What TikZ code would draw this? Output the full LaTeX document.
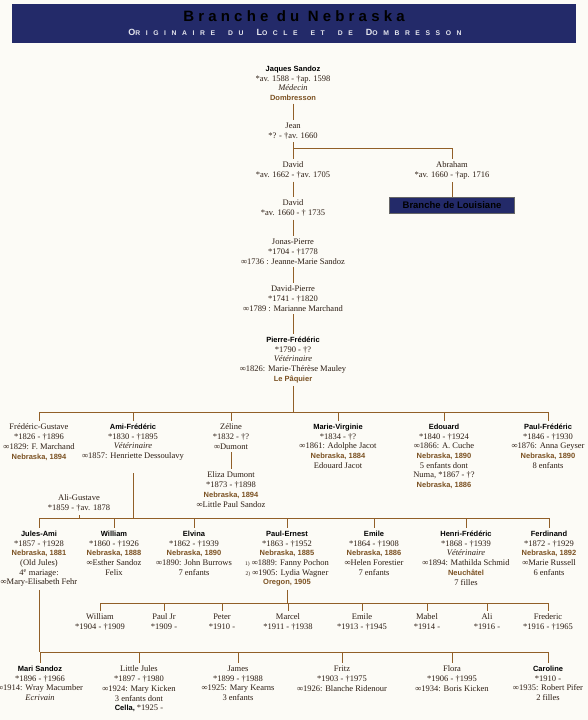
\documentclass[tikz,border=0pt]{standalone}
\usepackage{fontspec}
\setmainfont{Liberation Serif}
\setsansfont{Liberation Sans}
\newfontfamily\titlefont{Liberation Sans}[LetterSpace=28]
\newfontfamily\subtfont{Liberation Sans}[LetterSpace=82]
\usepackage{xcolor}
\usepackage{tikz}

\definecolor{navy}{RGB}{35,42,105}
\definecolor{brn}{RGB}{145,95,40}
\definecolor{ink}{RGB}{45,30,20}
\definecolor{cream}{RGB}{252,251,246}

\newcommand{\nm}[1]{{\sffamily\bfseries\fontsize{7.5}{9.7}\selectfont\color{black}#1}}
\newcommand{\neb}[1]{{\sffamily\bfseries\fontsize{7.5}{9.7}\selectfont\color{brn!85!black}#1}}
\newcommand{\sck}[2]{{\fontsize{9}{10}\selectfont#1}{\fontsize{6.8}{10}\selectfont#2}}
\newcommand{\nr}[1]{{\fontsize{5.5}{9.7}\selectfont#1}}

\begin{document}
\begin{tikzpicture}[x=1pt, y=-1pt,
  pers/.style={align=center, inner sep=0pt, outer sep=3pt, anchor=north,
               text=ink, font=\fontsize{8.5}{9.7}\selectfont},
  link/.style={draw=brn, line width=0.9pt},
  brbox/.style={fill=navy, draw=black!60, line width=0.4pt, minimum width=125,
                minimum height=16, inner sep=0pt, text=black,
                font=\sffamily\bfseries\fontsize{9.5}{10}\selectfont}]
  \useasboundingbox (0,0) rectangle (588,720);
  \fill[cream] (0,0) rectangle (588,720);

  % banner
  \fill[navy] (12,4) rectangle (576,43);
  \node[text=black, font=\titlefont\bfseries\fontsize{15}{15}\selectfont] (title) at (294,16)
       {Branche du Nebraska};
  \node[text=white!88!navy, font=\subtfont\bfseries] (subtitle) at (295,32)
       {\sck{O}{RIGINAIRE}\hspace{13pt}\sck{}{DU}\hspace{13pt}\sck{L}{OCLE}\hspace{13pt}\sck{}{ET}\hspace{13pt}\sck{}{DE}\hspace{13pt}\sck{D}{OMBRESSON}};

  % ancestors
  \node[pers] (jaques) at (293,63) {\nm{Jaques Sandoz}\\*av. 1588 - †ap. 1598\\\textit{Médecin}\\\neb{Dombresson}};
  \node[pers] (jean) at (293,120) {Jean\\*? - †av. 1660};
  \node[pers] (david1) at (293,159) {David\\*av. 1662 - †av. 1705};
  \node[pers] (abraham) at (452,159) {Abraham\\*av. 1660 - †ap. 1716};
  \node[brbox] (louis) at (452,205) {Branche de Louisiane};
  \node[pers] (david2) at (293,197) {David\\*av. 1660 - † 1735};
  \node[pers] (jonas) at (293,236) {Jonas-Pierre\\*1704 - †1778\\∞1736 : Jeanne-Marie Sandoz};
  \node[pers] (davidp) at (293,283) {David-Pierre\\*1741 - †1820\\∞1789 : Marianne Marchand};
  \node[pers] (pierref) at (293,334) {\nm{Pierre-Frédéric}\\*1790 - †?\\\textit{Vétérinaire}\\∞1826: Marie-Thérèse Mauley\\\neb{Le Pâquier}};

  \draw[link] (jaques) -- (jean);
  \draw[link] (jean) -- (david1);
  \coordinate (jeanbar) at (293,148);
  \draw[link] (jeanbar) -| (abraham);
  \draw[link] (abraham) -- (louis);
  \draw[link] (david1) -- (david2);
  \draw[link] (david2) -- (jonas);
  \draw[link] (jonas) -- (davidp);
  \draw[link] (davidp) -- (pierref);

  % children of Pierre-Frederic
  \node[pers] (fredg) at (39,421) {Frédéric-Gustave\\*1826 - †1896\\∞1829: F. Marchand\\\neb{Nebraska, 1894}};
  \node[pers] (amif) at (133,421) {\nm{Ami-Frédéric}\\*1830 - †1895\\\textit{Vétérinaire}\\∞1857: Henriette Dessoulavy};
  \node[pers] (zeline) at (231,421) {Zéline\\*1832 - †?\\∞Dumont};
  \node[pers] (eliza) at (231,469) {Eliza Dumont\\*1873 - †1898\\\neb{Nebraska, 1894}\\∞Little Paul Sandoz};
  \node[pers] (mariev) at (338,421) {\nm{Marie-Virginie}\\*1834 - †?\\∞1861: Adolphe Jacot\\\neb{Nebraska, 1884}\\Edouard Jacot};
  \node[pers] (edouard) at (444,421) {\nm{Edouard}\\*1840 - †1924\\∞1866: A. Cuche\\\neb{Nebraska, 1890}\\5 enfants dont\\Numa, *1867 - †?\\\neb{Nebraska, 1886}};
  \node[pers] (paulf) at (548,421) {\nm{Paul-Frédéric}\\*1846 - †1930\\∞1876: Anna Geyser\\\neb{Nebraska, 1890}\\8 enfants};

  \coordinate (pfbar) at (293,412);
  \draw[link] (pierref) -- (pfbar);
  \draw[link] (fredg |- pfbar) -- (paulf |- pfbar);
  \foreach \c in {fredg,amif,zeline,mariev,edouard,paulf}
    \draw[link] (\c |- pfbar) -- (\c);
  \draw[link] (zeline) -- (eliza);

  % children of Ami-Frederic
  \node[pers] (alig) at (79,492) {Ali-Gustave\\*1859 - †av. 1878};
  \node[pers] (julesami) at (39,528) {\nm{Jules-Ami}\\*1857 - †1928\\\neb{Nebraska, 1881}\\(Old Jules)\\4\textsuperscript{e} mariage:\\∞Mary-Elisabeth Fehr};
  \node[pers] (william) at (114,528) {\nm{William}\\*1860 - †1926\\\neb{Nebraska, 1888}\\∞Esther Sandoz\\Felix};
  \node[pers] (elvina) at (194,528) {\nm{Elvina}\\*1862 - †1939\\\neb{Nebraska, 1890}\\∞1890: John Burrows\\7 enfants};
  \node[pers] (paulernest) at (287,528) {\nm{Paul-Ernest}\\*1863 - †1952\\\neb{Nebraska, 1885}\\\nr{1)} ∞1889: Fanny Pochon\\\nr{2)} ∞1905: Lydia Wagner\\\neb{Oregon, 1905}};
  \node[pers] (emile) at (374,528) {\nm{Emile}\\*1864 - †1908\\\neb{Nebraska, 1886}\\∞Helen Forestier\\7 enfants};
  \node[pers] (henrif) at (466,528) {\nm{Henri-Frédéric}\\*1868 - †1939\\\textit{Vétérinaire}\\∞1894: Mathilda Schmid\\\neb{Neuchâtel}\\7 filles};
  \node[pers] (ferdinand) at (549,528) {\nm{Ferdinand}\\*1872 - †1929\\\neb{Nebraska, 1892}\\∞Marie Russell\\6 enfants};

  \coordinate (afbar) at (133,518);
  \draw[link, shorten <=10pt] (amif) -- (afbar);
  \draw[link] (julesami |- afbar) -- (ferdinand |- afbar);
  \foreach \c in {alig,julesami,william,elvina,paulernest,emile,henrif,ferdinand}
    \draw[link] (\c |- afbar) -- (\c);

  % children of Paul-Ernest
  \node[pers] (william2) at (100,611) {William\\*1904 - †1909};
  \node[pers] (pauljr) at (164,611) {Paul Jr\\*1909 -};
  \node[pers] (peter) at (222,611) {Peter\\*1910 -};
  \node[pers] (marcel) at (288,611) {Marcel\\*1911 - †1938};
  \node[pers] (emile2) at (362,611) {Emile\\*1913 - †1945};
  \node[pers] (mabel) at (427,611) {Mabel\\*1914 -};
  \node[pers] (ali) at (487,611) {Ali\\*1916 -};
  \node[pers] (frederic) at (548,611) {Frederic\\*1916 - †1965};

  \coordinate (pebar) at (287,603);
  \draw[link] (paulernest) -- (pebar);
  \draw[link] (william2 |- pebar) -- (frederic |- pebar);
  \foreach \c in {william2,pauljr,peter,marcel,emile2,mabel,ali,frederic}
    \draw[link] (\c |- pebar) -- (\c);

  % children of Jules-Ami
  \node[pers] (mari) at (40,663) {\nm{Mari Sandoz}\\*1896 - †1966\\∞1914: Wray Macumber\\\textit{Ecrivain}};
  \node[pers] (littlej) at (139,663) {Little Jules\\*1897 - †1980\\∞1924: Mary Kicken\\3 enfants dont\\\nm{Cella,} *1925 -};
  \node[pers] (james) at (238,663) {James\\*1899 - †1988\\∞1925: Mary Kearns\\3 enfants};
  \node[pers] (fritz) at (342,663) {Fritz\\*1903 - †1975\\∞1926: Blanche Ridenour};
  \node[pers] (flora) at (452,663) {Flora\\*1906 - †1995\\∞1934: Boris Kicken};
  \node[pers] (caroline) at (548,663) {\nm{Caroline}\\*1910 -\\∞1935: Robert Pifer\\2 filles};

  \coordinate (jabar) at (39,652);
  \draw[link] (julesami) -- (jabar);
  \draw[link] (mari |- jabar) -- (caroline |- jabar);
  \foreach \c in {mari,littlej,james,fritz,flora,caroline}
    \draw[link] (\c |- jabar) -- (\c);
\end{tikzpicture}
\end{document}
